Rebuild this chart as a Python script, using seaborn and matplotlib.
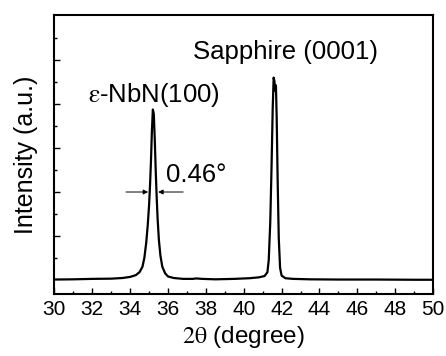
import matplotlib
matplotlib.use("Agg")
import matplotlib.pyplot as plt
from matplotlib.ticker import MultipleLocator
import seaborn as sns
import pandas as pd

# 2theta (degree) and intensity (a.u.)
two_theta = [30.0, 31.0, 32.0, 33.0, 33.6, 34.0, 34.3, 34.5, 34.65, 34.75, 34.85,
             34.93, 35.0, 35.05, 35.1, 35.15, 35.2, 35.25, 35.3, 35.35, 35.4,
             35.45, 35.52, 35.6, 35.7, 35.85, 36.0, 36.3, 36.8, 37.3, 37.5,
             37.8, 38.5, 39.5, 40.3, 40.8, 41.1, 41.25, 41.32, 41.4, 41.47,
             41.53, 41.58, 41.62, 41.66, 41.7, 41.74, 41.79, 41.85, 41.92,
             42.0, 42.2, 42.6, 43.5, 45.0, 47.0, 49.0, 50.0]
intensity = [0.02, 0.03, 0.05, 0.06, 0.09, 0.14, 0.22, 0.36, 0.6, 1.0, 1.7,
             2.5, 3.4, 4.3, 5.4, 6.8, 7.75, 7.55, 6.4, 5.0, 3.8,
             2.8, 1.8, 1.1, 0.6, 0.3, 0.16, 0.09, 0.05, 0.05, 0.07,
             0.05, 0.03, 0.05, 0.08, 0.12, 0.18, 0.35, 0.9, 2.6, 5.2,
             7.8, 9.2, 9.05, 8.6, 8.85, 7.4, 4.6, 1.9, 0.55,
             0.2, 0.08, 0.05, 0.03, 0.02, 0.02, 0.01, 0.01]

x_ticks = [30, 32, 34, 36, 38, 40, 42, 44, 46, 48, 50]

df = pd.DataFrame({"two_theta": two_theta, "intensity": intensity})

sns.set_style("ticks")
plt.rcParams["font.family"] = ["Liberation Sans", "DejaVu Sans"]
plt.rcParams["mathtext.fontset"] = "stix"
plt.rcParams["text.color"] = "black"
plt.rcParams["axes.labelcolor"] = "black"
plt.rcParams["xtick.color"] = "black"
plt.rcParams["ytick.color"] = "black"

fig = plt.figure(figsize=(4.46, 3.56), dpi=100)
ax = fig.add_axes([0.122, 0.174, 0.849, 0.784])

sns.lineplot(data=df, x="two_theta", y="intensity", ax=ax, color="black",
             linewidth=1.6, estimator=None, sort=False)

ax.set_xlim(30, 50)
ax.set_ylim(-0.64, 12.05)
ax.set_xticks(x_ticks)
ax.set_xticklabels([str(t) for t in x_ticks])
ax.xaxis.set_minor_locator(MultipleLocator(1))
ax.set_yticks([2, 4, 6, 8, 10])
ax.set_yticks([1, 3, 5, 7, 9, 11], minor=True)
ax.set_yticklabels([])
ax.tick_params(axis="both", which="major", direction="in", length=4.5, width=1.0,
               labelsize=15, pad=4, color="black", labelcolor="black")
ax.tick_params(axis="both", which="minor", direction="in", length=2.5, width=1.0,
               color="black")
ax.tick_params(axis="y", which="both", left=True, right=False)
ax.tick_params(axis="x", which="both", bottom=True, top=False)
for s in ax.spines.values():
    s.set_linewidth(1.5)
    s.set_color("black")

ax.set_xlabel(r"$\mathrm{2\theta}$ (degree)", fontsize=17.5, labelpad=4, color="black")
ax.set_ylabel("Intensity (a.u.)", fontsize=18, labelpad=8, color="black")

ax.text(37.33, 10.36, "Sapphire (0001)", fontsize=18.5, va="center", ha="left", color="black")
ax.text(31.77, 8.41, r"$\mathrm{\varepsilon}$-NbN(100)", fontsize=18.5, va="center", ha="left", color="black")
ax.text(35.9, 4.77, "0.46°", fontsize=18.5, va="center", ha="left", color="black")

ax.annotate("", xy=(34.95, 4.0), xytext=(33.78, 4.0),
            arrowprops=dict(arrowstyle="-|>", color="black", lw=0.7,
                            mutation_scale=7, shrinkA=0, shrinkB=0))
ax.annotate("", xy=(35.48, 4.0), xytext=(36.8, 4.0),
            arrowprops=dict(arrowstyle="-|>", color="black", lw=0.7,
                            mutation_scale=7, shrinkA=0, shrinkB=0))

fig.savefig("out.png", dpi=100)
